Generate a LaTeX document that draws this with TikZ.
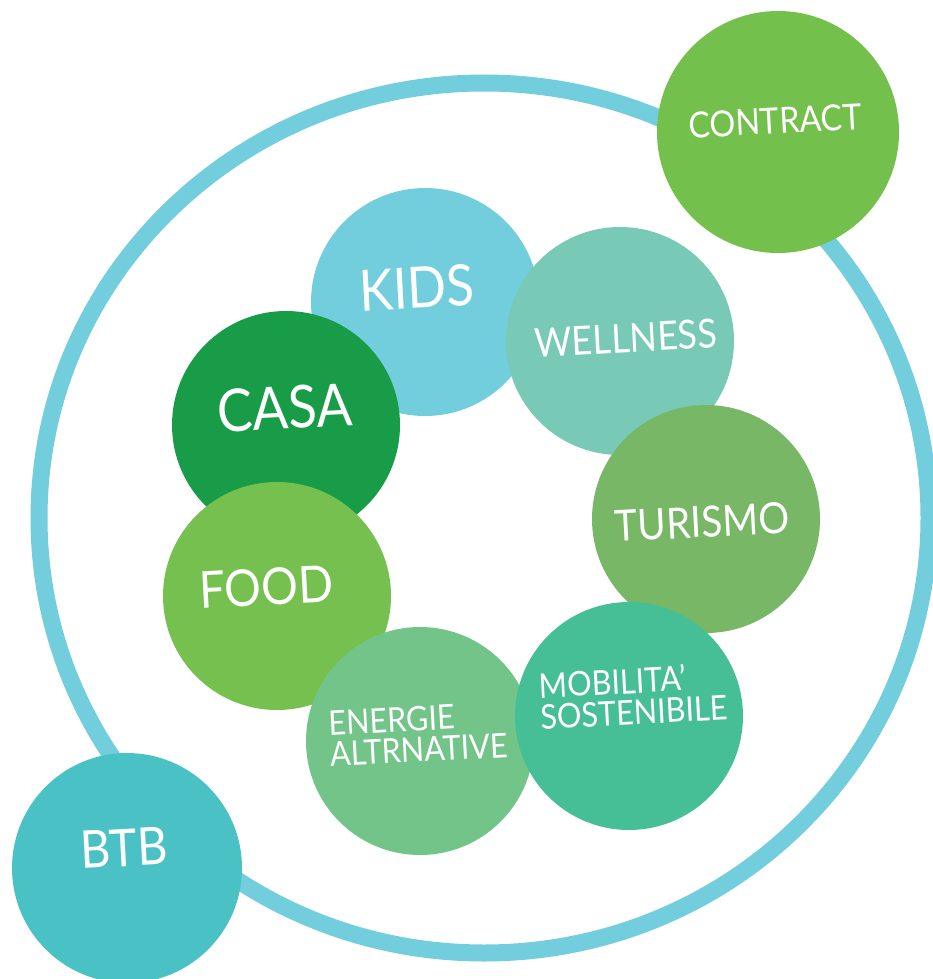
\documentclass[tikz,border=0pt]{standalone}
\usepackage{fontspec}
\setmainfont{Lato}[FakeStretch=0.9]
\usepackage{tikz}
\definecolor{ring}{HTML}{72CDDC}
\definecolor{kidsc}{HTML}{72CEDC}
\definecolor{wellc}{HTML}{78C9B5}
\definecolor{casac}{HTML}{189C48}
\definecolor{foodc}{HTML}{75C04E}
\definecolor{turc}{HTML}{77B766}
\definecolor{enec}{HTML}{72C489}
\definecolor{mobc}{HTML}{47BF96}
\definecolor{btbc}{HTML}{4AC2C5}
\definecolor{conc}{HTML}{74C04C}

\begin{document}
\begin{tikzpicture}[x=1pt,y=-1pt,
  bubble/.style={circle,inner sep=0pt,minimum size=228pt},
  word/.style={white,inner sep=0pt,rotate=3}]
  \useasboundingbox (0,0) rectangle (933,979);
  \draw[ring,line width=17pt] (484,518) ellipse (445 and 435); %anello
  % cerchi interni
  \node[bubble,fill=kidsc] (kids) at (425,302) {};
  \node[bubble,fill=casac] (casa) at (286,425) {};
  \node[bubble,fill=foodc] (food) at (277,596) {};
  \node[bubble,fill=wellc] (well) at (620,341) {};
  \node[bubble,fill=turc] (tur) at (706,519) {};
  \node[bubble,fill=enec] (ene) at (420,741) {};
  \node[bubble,fill=mobc] (mob) at (629,716) {};
  % cerchi esterni
  \node[bubble,fill=conc,minimum size=242pt] (con) at (778,132) {};
  \node[bubble,fill=btbc,minimum size=230pt] (btb) at (127,868) {};
  % testi
  \node[word,font=\fontsize{57}{57}\selectfont] (kids-t) at (417,288) {KIDS};
  \node[word,font=\fontsize{59}{59}\selectfont] (casa-t) at (285,408) {CASA};
  \node[word,font=\fontsize{51}{51}\selectfont] (food-t) at (266,587) {FOOD};
  \node[word,font=\fontsize{40}{40}\selectfont] (well-t) at (626,338) {WELLNESS};
  \node[word,font=\fontsize{43}{43}\selectfont] (tur-t) at (702,522) {TURISMO};
  \node[word,font=\fontsize{34}{31}\selectfont,align=left] (ene-t) at (418,734) {ENERGIE\\ALTRNATIVE};
  \node[word,font=\fontsize{34}{31}\selectfont,align=left] (mob-t) at (633,696) {MOBILITA’\\SOSTENIBILE};
  \node[word,font=\fontsize{36}{36}\selectfont] (con-t) at (775,121) {CONTRACT};
  \node[word,font=\fontsize{52}{52}\selectfont] (btb-t) at (124,848) {BTB};
\end{tikzpicture}
\end{document}
